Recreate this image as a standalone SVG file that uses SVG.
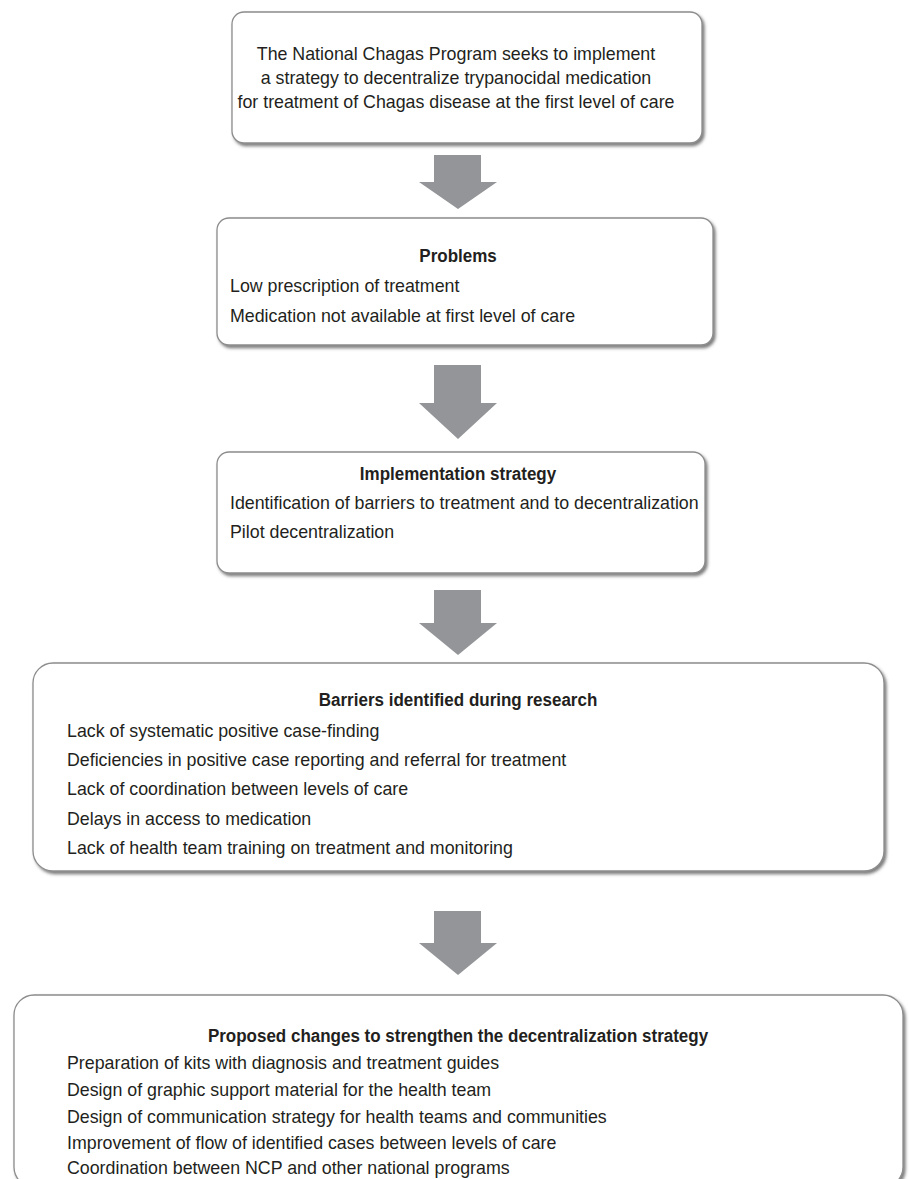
<svg xmlns="http://www.w3.org/2000/svg" width="909" height="1179" viewBox="0 0 909 1179">
<style>
.box{fill:#ffffff;stroke:#8c8c8c;stroke-width:1.3;filter:url(#sh)}
.t{font-family:"Liberation Sans",Arial,sans-serif;font-size:18.5px;fill:#231f20}
.b{font-family:"Liberation Sans",Arial,sans-serif;font-size:18.5px;font-weight:bold;fill:#231f20;text-anchor:middle}
.c{text-anchor:middle}
.arrow{fill:#939598}
</style>
<defs>
<filter id="sh" x="-5%" y="-10%" width="110%" height="125%">
<feDropShadow dx="2" dy="2.5" stdDeviation="1.5" flood-color="#444" flood-opacity="0.7"/>
</filter>
</defs>
<rect width="909" height="1179" fill="#ffffff"/>
<g id="connectors">
<polygon class="arrow" points="434,155 481,155 481,182 497,182 458,209 419,182 434,182"/>
<polygon class="arrow" points="434,365 481,365 481,403 497,403 458,439 419,403 434,403"/>
<polygon class="arrow" points="434,590 481,590 481,623 497,623 458,655 419,623 434,623"/>
<polygon class="arrow" points="434,911 481,911 481,943 497,943 458,975 419,943 434,943"/>
</g>
<g id="node-program">
<rect class="box" x="232" y="12" width="470" height="131" rx="12"/>
<g transform="scale(0.962,1)">
<text class="t c" x="474" y="60">The National Chagas Program seeks to implement</text>
<text class="t c" x="474" y="84">a strategy to decentralize trypanocidal medication</text>
<text class="t c" x="474" y="108">for treatment of Chagas disease at the first level of care</text>
</g>
</g>
<g id="node-problems">
<rect class="box" x="217" y="218" width="496" height="127" rx="12"/>
<text class="b" transform="scale(0.919,1)" x="498.4" y="262">Problems</text>
<g transform="scale(0.962,1)">
<text class="t" x="239.1" y="292">Low prescription of treatment</text>
<text class="t" x="239.1" y="322">Medication not available at first level of care</text>
</g>
</g>
<g id="node-implementation">
<rect class="box" x="217" y="452" width="488" height="121" rx="12"/>
<text class="b" transform="scale(0.919,1)" x="498.4" y="480">Implementation strategy</text>
<g transform="scale(0.962,1)">
<text class="t" x="239.1" y="509">Identification of barriers to treatment and to decentralization</text>
<text class="t" x="239.1" y="538">Pilot decentralization</text>
</g>
</g>
<g id="node-barriers">
<rect class="box" x="33" y="663" width="851" height="208" rx="20"/>
<text class="b" transform="scale(0.919,1)" x="498.4" y="706">Barriers identified during research</text>
<g transform="scale(0.962,1)">
<text class="t" x="69.65" y="737">Lack of systematic positive case-finding</text>
<text class="t" x="69.65" y="766">Deficiencies in positive case reporting and referral for treatment</text>
<text class="t" x="69.65" y="795">Lack of coordination between levels of care</text>
<text class="t" x="69.65" y="825">Delays in access to medication</text>
<text class="t" x="69.65" y="854">Lack of health team training on treatment and monitoring</text>
</g>
</g>
<g id="node-proposed">
<rect class="box" x="14" y="995" width="889" height="192" rx="20"/>
<text class="b" transform="scale(0.919,1)" x="498.4" y="1042">Proposed changes to strengthen the decentralization strategy</text>
<g transform="scale(0.962,1)">
<text class="t" x="69.65" y="1069">Preparation of kits with diagnosis and treatment guides</text>
<text class="t" x="69.65" y="1096">Design of graphic support material for the health team</text>
<text class="t" x="69.65" y="1123">Design of communication strategy for health teams and communities</text>
<text class="t" x="69.65" y="1149">Improvement of flow of identified cases between levels of care</text>
<text class="t" x="69.65" y="1174">Coordination between NCP and other national programs</text>
</g>
</g>
</svg>
